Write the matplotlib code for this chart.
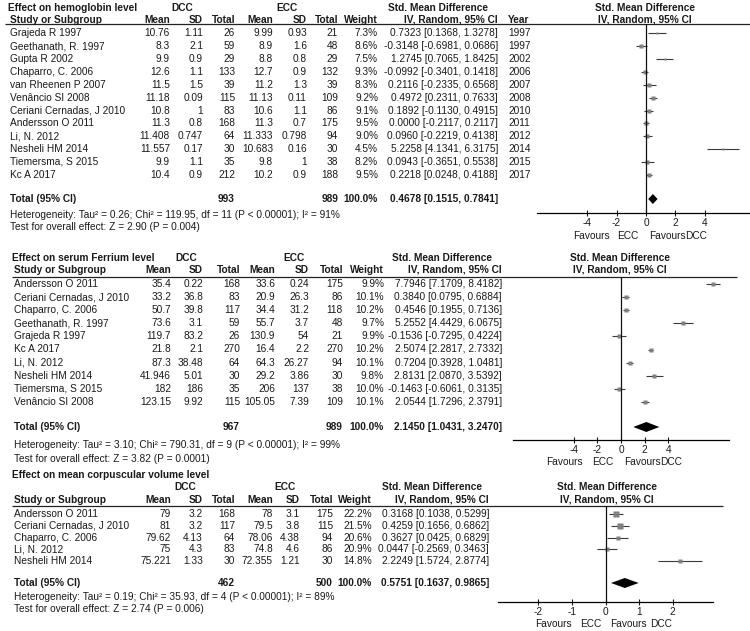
# Forest plots (RevMan style): delayed vs early cord clamping on three blood indices.

import matplotlib.pyplot as plt

plt.rcParams['font.family'] = ['Liberation Sans', 'DejaVu Sans']
plt.rcParams['axes.unicode_minus'] = False

FS = 7.3
TXT = '#1a1a1a'

# --- hemoglobin ---
hb_study = ["Grajeda R 1997", "Geethanath, R. 1997", "Gupta R 2002", "Chaparro, C. 2006",
            "van Rheenen P 2007", "Venâncio SI 2008", "Ceriani Cernadas, J 2010",
            "Andersson O 2011", "Li, N. 2012", "Nesheli HM 2014", "Tiemersma, S 2015", "Kc A 2017"]
hb_dcc_mean = [10.76, 8.3, 9.9, 12.6, 11.5, 11.18, 10.8, 11.3, 11.408, 11.557, 9.9, 10.4]
hb_dcc_sd = [1.11, 2.1, 0.9, 1.1, 1.5, 0.09, 1, 0.8, 0.747, 0.17, 1.1, 0.9]
hb_dcc_n = [26, 59, 29, 133, 39, 115, 83, 168, 64, 30, 35, 212]
hb_ecc_mean = [9.99, 8.9, 8.8, 12.7, 11.2, 11.13, 10.6, 11.3, 11.333, 10.683, 9.8, 10.2]
hb_ecc_sd = [0.93, 1.6, 0.8, 0.9, 1.3, 0.11, 1.1, 0.7, 0.798, 0.16, 1, 0.9]
hb_ecc_n = [21, 48, 29, 132, 39, 109, 86, 175, 94, 30, 38, 188]
hb_weight = [7.3, 8.6, 7.5, 9.3, 8.3, 9.2, 9.1, 9.5, 9.0, 4.5, 8.2, 9.5]
hb_smd = [0.7323, -0.3148, 1.2745, -0.0992, 0.2116, 0.4972, 0.1892, 0.0000, 0.0960, 5.2258, 0.0943, 0.2218]
hb_lo = [0.1368, -0.6981, 0.7065, -0.3401, -0.2335, 0.2311, -0.1130, -0.2117, -0.2219, 4.1341, -0.3651, 0.0248]
hb_hi = [1.3278, 0.0686, 1.8425, 0.1418, 0.6568, 0.7633, 0.4915, 0.2117, 0.4138, 6.3175, 0.5538, 0.4188]
hb_year = [1997, 1997, 2002, 2006, 2007, 2008, 2010, 2011, 2012, 2014, 2015, 2017]
hb_total = (993, 989, 0.4678, 0.1515, 0.7841)
hb_het = "Heterogeneity: Tau² = 0.26; Chi² = 119.95, df = 11 (P < 0.00001); I² = 91%"
hb_test = "Test for overall effect: Z = 2.90 (P = 0.004)"

# --- serum ferritin ---
fe_study = ["Andersson O 2011", "Ceriani Cernadas, J 2010", "Chaparro, C. 2006", "Geethanath, R. 1997",
            "Grajeda R 1997", "Kc A 2017", "Li, N. 2012", "Nesheli HM 2014", "Tiemersma, S 2015",
            "Venâncio SI 2008"]
fe_dcc_mean = [35.4, 33.2, 50.7, 73.6, 119.7, 21.8, 87.3, 41.946, 182, 123.15]
fe_dcc_sd = [0.22, 36.8, 39.8, 3.1, 83.2, 2.1, 38.48, 5.01, 186, 9.92]
fe_dcc_n = [168, 83, 117, 59, 26, 270, 64, 30, 35, 115]
fe_ecc_mean = [33.6, 20.9, 34.4, 55.7, 130.9, 16.4, 64.3, 29.2, 206, 105.05]
fe_ecc_sd = [0.24, 26.3, 31.2, 3.7, 54, 2.2, 26.27, 3.86, 137, 7.39]
fe_ecc_n = [175, 86, 118, 48, 21, 270, 94, 30, 38, 109]
fe_weight = [9.9, 10.1, 10.2, 9.7, 9.9, 10.2, 10.1, 9.8, 10.0, 10.1]
fe_smd = [7.7946, 0.3840, 0.4546, 5.2552, -0.1536, 2.5074, 0.7204, 2.8131, -0.1463, 2.0544]
fe_lo = [7.1709, 0.0795, 0.1955, 4.4429, -0.7295, 2.2817, 0.3928, 2.0870, -0.6061, 1.7296]
fe_hi = [8.4182, 0.6884, 0.7136, 6.0675, 0.4224, 2.7332, 1.0481, 3.5392, 0.3135, 2.3791]
fe_total = (967, 989, 2.1450, 1.0431, 3.2470)
fe_het = "Heterogeneity: Tau² = 3.10; Chi² = 790.31, df = 9 (P < 0.00001); I² = 99%"
fe_test = "Test for overall effect: Z = 3.82 (P = 0.0001)"

# --- mean corpuscular volume ---
mcv_study = ["Andersson O 2011", "Ceriani Cernadas, J 2010", "Chaparro, C. 2006", "Li, N. 2012",
             "Nesheli HM 2014"]
mcv_dcc_mean = [79, 81, 79.62, 75, 75.221]
mcv_dcc_sd = [3.2, 3.2, 4.13, 4.3, 1.33]
mcv_dcc_n = [168, 117, 64, 83, 30]
mcv_ecc_mean = [78, 79.5, 78.06, 74.8, 72.355]
mcv_ecc_sd = [3.1, 3.8, 4.38, 4.6, 1.21]
mcv_ecc_n = [175, 115, 94, 86, 30]
mcv_weight = [22.2, 21.5, 20.6, 20.9, 14.8]
mcv_smd = [0.3168, 0.4259, 0.3627, 0.0447, 2.2249]
mcv_lo = [0.1038, 0.1656, 0.0425, -0.2569, 1.5724]
mcv_hi = [0.5299, 0.6862, 0.6829, 0.3463, 2.8774]
mcv_total = (462, 500, 0.5751, 0.1637, 0.9865)
mcv_het = "Heterogeneity: Tau² = 0.19; Chi² = 35.93, df = 4 (P < 0.00001); I² = 89%"
mcv_test = "Test for overall effect: Z = 2.74 (P = 0.006)"

W, H = 750, 631
fig = plt.figure(figsize=(W / 100, H / 100), dpi=100)
ov = fig.add_axes([0, 0, 1, 1])
ov.set_xlim(0, W)
ov.set_ylim(H, 0)
ov.axis('off')


def txt(x, y, s, ha='left', bold=False):
    ov.text(x, y, s, ha=ha, va='center', fontsize=FS, color=TXT,
            fontweight='bold' if bold else 'normal')


def ci_str(s, l, h):
    return f"{s:.4f} [{l:.4f}, {h:.4f}]"


def panel(title, study, dm, dsd, dn, em, esd, en, wt, smd, lo, hi, total, het, test, lay, year=None):
    x0 = lay['x0']
    cols = lay['cols']
    txt(x0 - 2, lay['title_y'], title, bold=True)
    gy = lay['group_y']
    ov.text(lay['dcc_x'], gy, "DCC", ha='center', va='center', fontsize=FS, fontweight='bold', color=TXT)
    ov.text(lay['ecc_x'], gy, "ECC", ha='center', va='center', fontsize=FS, fontweight='bold', color=TXT)
    ov.text(lay['smd_x'], gy, "Std. Mean Difference", ha='center', va='center', fontsize=FS, fontweight='bold', color=TXT)
    ov.text(lay['smd_x2'], gy, "Std. Mean Difference", ha='center', va='center', fontsize=FS, fontweight='bold', color=TXT)

    hy = lay['head_y']
    txt(x0, hy, "Study or Subgroup", bold=True)
    for c, lab in zip(cols, ["Mean", "SD", "Total", "Mean", "SD", "Total", "Weight", "IV, Random, 95% CI"]):
        txt(c, hy, lab, ha='right', bold=True)
    if year is not None:
        txt(lay['year_x'], hy, "Year", bold=True)
    ov.text(lay['smd_x2'], hy, "IV, Random, 95% CI", ha='center', va='center', fontsize=FS, fontweight='bold', color=TXT)
    ov.hlines(lay['line_y'], lay['line_x'][0], lay['line_x'][1], color='#222222', lw=0.9)

    ys = [lay['y0'] + i * lay['dy'] for i in range(len(study))]
    for i, y in enumerate(ys):
        txt(x0, y, study[i])
        vals = [f"{dm[i]:g}", f"{dsd[i]:g}", str(dn[i]), f"{em[i]:g}", f"{esd[i]:g}", str(en[i]),
                f"{wt[i]:.1f}%", ci_str(smd[i], lo[i], hi[i])]
        for c, v in zip(cols, vals):
            txt(c, y, v, ha='right')
        if year is not None:
            txt(lay['year_x'], y, str(year[i]))

    ty = lay['tot_y']
    txt(x0, ty, "Total (95% CI)", bold=True)
    txt(cols[2], ty, str(total[0]), ha='right', bold=True)
    txt(cols[5], ty, str(total[1]), ha='right', bold=True)
    txt(cols[6], ty, "100.0%", ha='right', bold=True)
    txt(cols[7], ty, ci_str(*total[2:]), ha='right', bold=True)
    txt(x0, lay['het_y'], het)
    txt(x0, lay['test_y'], test)

    # forest plot area: y data units equal figure pixels
    l, r, t, b = lay['plot']
    ax = fig.add_axes([l / W, 1 - b / H, (r - l) / W, (b - t) / H])
    ax.patch.set_alpha(0)
    xm = lay['xm']
    ax.set_xlim(-xm, xm)
    ax.set_ylim(b, t)
    ax.hlines(ys, lo, hi, color='#3a3a3a', lw=0.8)
    for y, s, w in zip(ys, smd, wt):
        ax.plot(s, y, 's', ms=0.78 * w ** 0.5, color='#808080', mec='none')
    s, lw_, hi_ = total[2:]
    ax.fill([lw_, s, hi_, s], [ty, ty - 5, ty, ty + 5], color='black', lw=0)
    ax.axvline(0, color='#111111', lw=0.9)
    for side in ['left', 'right', 'top']:
        ax.spines[side].set_visible(False)
    ax.spines['bottom'].set_linewidth(0.9)
    ax.set_yticks([])
    ax.set_xticks(lay['ticks'])
    ax.tick_params(axis='x', direction='inout', length=5, width=0.8, pad=1, labelsize=FS, colors=TXT)

    fy = lay['fav_y']
    fx = lay['fav_x']
    txt(fx[0], fy, "Favours", ha='right')
    txt(fx[1], fy, "ECC")
    txt(fx[2], fy, "Favours")
    txt(fx[3], fy, "DCC")


hb_lay = dict(x0=10, title_y=8, group_y=8, dcc_x=182, ecc_x=287, smd_x=438, smd_x2=645,
              head_y=20, cols=[170, 203, 235, 273, 307, 338, 378, 498], year_x=508,
              line_y=24, line_x=(5, 750), y0=33.5, dy=12.85,
              tot_y=199, het_y=215, test_y=227,
              plot=(537, 755, 24, 213), xm=7.39, ticks=[-4, -2, 0, 2, 4],
              fav_y=236, fav_x=(610, 617, 649, 685))

fe_lay = dict(x0=14, title_y=258, group_y=258, dcc_x=186, ecc_x=294, smd_x=442, smd_x2=620,
              head_y=270, cols=[171, 203, 240, 275, 309, 343, 384, 502],
              line_y=277, line_x=(12, 737), y0=284, dy=13.1,
              tot_y=427, het_y=445, test_y=459,
              plot=(513, 729, 277, 440), xm=9.15, ticks=[-4, -2, 0, 2, 4],
              fav_y=462, fav_x=(583, 592, 624, 660))

mcv_lay = dict(x0=14, title_y=475, group_y=487, dcc_x=185, ecc_x=285, smd_x=432, smd_x2=607,
               head_y=500, cols=[171, 203, 235, 273, 300, 333, 372, 489],
               line_y=506, line_x=(12, 723), y0=514, dy=11.8,
               tot_y=583, het_y=597, test_y=609,
               plot=(498, 713, 506, 602), xm=3.2, ticks=[-2, -1, 0, 1, 2],
               fav_y=624, fav_x=(572, 580, 610, 650))

panel("Effect on hemoglobin level", hb_study, hb_dcc_mean, hb_dcc_sd, hb_dcc_n, hb_ecc_mean,
      hb_ecc_sd, hb_ecc_n, hb_weight, hb_smd, hb_lo, hb_hi, hb_total, hb_het, hb_test, hb_lay,
      year=hb_year)
panel("Effect on serum Ferrium level", fe_study, fe_dcc_mean, fe_dcc_sd, fe_dcc_n, fe_ecc_mean,
      fe_ecc_sd, fe_ecc_n, fe_weight, fe_smd, fe_lo, fe_hi, fe_total, fe_het, fe_test, fe_lay)
panel("Effect on mean corpuscular volume level", mcv_study, mcv_dcc_mean, mcv_dcc_sd, mcv_dcc_n,
      mcv_ecc_mean, mcv_ecc_sd, mcv_ecc_n, mcv_weight, mcv_smd, mcv_lo, mcv_hi, mcv_total,
      mcv_het, mcv_test, mcv_lay)

fig.savefig("out.png", dpi=100)
